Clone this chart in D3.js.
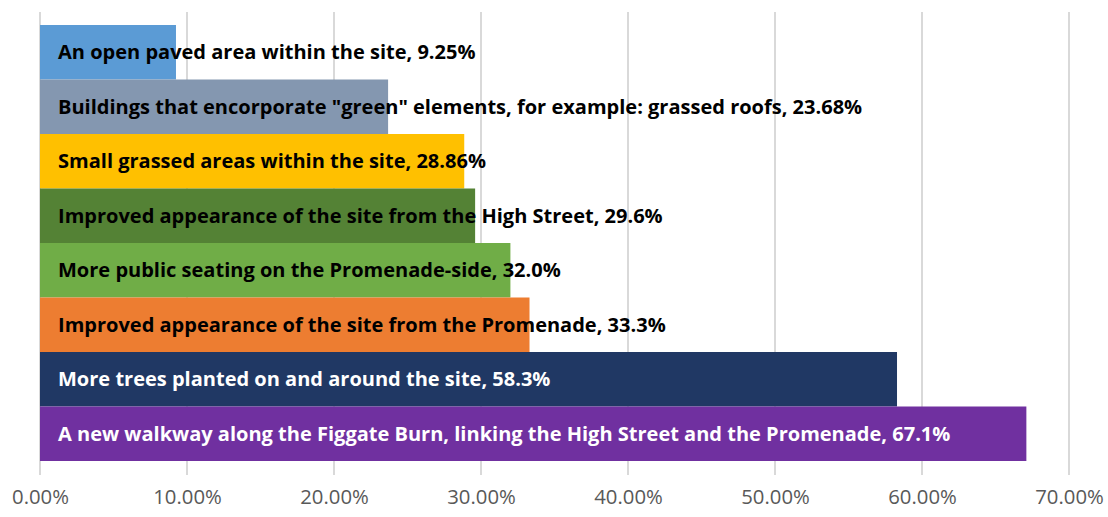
<!DOCTYPE html>
<html><head><meta charset="utf-8">
<script src="https://cdn.jsdelivr.net/npm/d3@7"></script>
<style>body{margin:0;background:#fff;}svg{display:block;}</style>
</head><body>
<svg id="c" width="1108" height="517"></svg>
<script>
const categories = [
  "An open paved area within the site",
  "Buildings that encorporate \"green\" elements, for example: grassed roofs",
  "Small grassed areas within the site",
  "Improved appearance of the site from the High Street",
  "More public seating on the Promenade-side",
  "Improved appearance of the site from the Promenade",
  "More trees planted on and around the site",
  "A new walkway along the Figgate Burn, linking the High Street and the Promenade"
];
const values = [9.25, 23.68, 28.86, 29.6, 32.0, 33.3, 58.3, 67.1];
const valueLabels = ["9.25%", "23.68%", "28.86%", "29.6%", "32.0%", "33.3%", "58.3%", "67.1%"];
const colors = ["#5B9BD5", "#8497B0", "#FFC000", "#548235", "#70AD47", "#ED7D31", "#203864", "#7030A0"];
const textColors = ["#000", "#000", "#000", "#000", "#000", "#000", "#fff", "#fff"];
const ticks = [0, 10, 20, 30, 40, 50, 60, 70];

const FONT = "'Open Sans', 'Noto Sans', sans-serif";
const svg = d3.select("#c");
const x = d3.scaleLinear().domain([0, 70]).range([40, 1069]);
const y = d3.scaleBand().domain(categories).range([25, 461]).padding(0);

svg.append("g").selectAll("line").data(ticks).join("line")
  .attr("x1", d => x(d)).attr("x2", d => x(d))
  .attr("y1", 12).attr("y2", 475)
  .attr("stroke", "#d9d9d9").attr("stroke-width", 2);

svg.append("g").selectAll("rect").data(categories).join("rect")
  .attr("x", x(0)).attr("y", d => y(d))
  .attr("width", (d, i) => x(values[i]) - x(0))
  .attr("height", y.bandwidth())
  .attr("fill", (d, i) => colors[i]);

const labels = svg.append("g").selectAll("text").data(categories).join("text")
  .attr("x", 58).attr("y", d => y(d) + y.bandwidth() / 2)
  .attr("dy", "0.36em")
  .attr("font-family", FONT)
  .attr("font-weight", "bold")
  .attr("font-size", 17)
  .attr("fill", (d, i) => textColors[i])
  .text((d, i) => d + ", " + valueLabels[i]);
// fit longest label to reference width (~893px)
const longest = labels.nodes()[categories.length - 1].getComputedTextLength();
const fs = 17 * 893 / longest;
labels.attr("font-size", fs);

const axis = d3.axisBottom(x).tickValues(ticks).tickFormat(d => d.toFixed(2) + "%").tickSize(0).tickPadding(0);
const ag = svg.append("g").attr("transform", "translate(0,497)").call(axis);
ag.select(".domain").remove();
const tl = ag.selectAll("text").attr("font-family", FONT)
  .attr("font-size", 17).attr("fill", "#595959").attr("dy", "0.36em");
const tw = tl.nodes()[0].getComputedTextLength();
tl.attr("font-size", 17 * 57 / tw);
</script>
</body></html>
